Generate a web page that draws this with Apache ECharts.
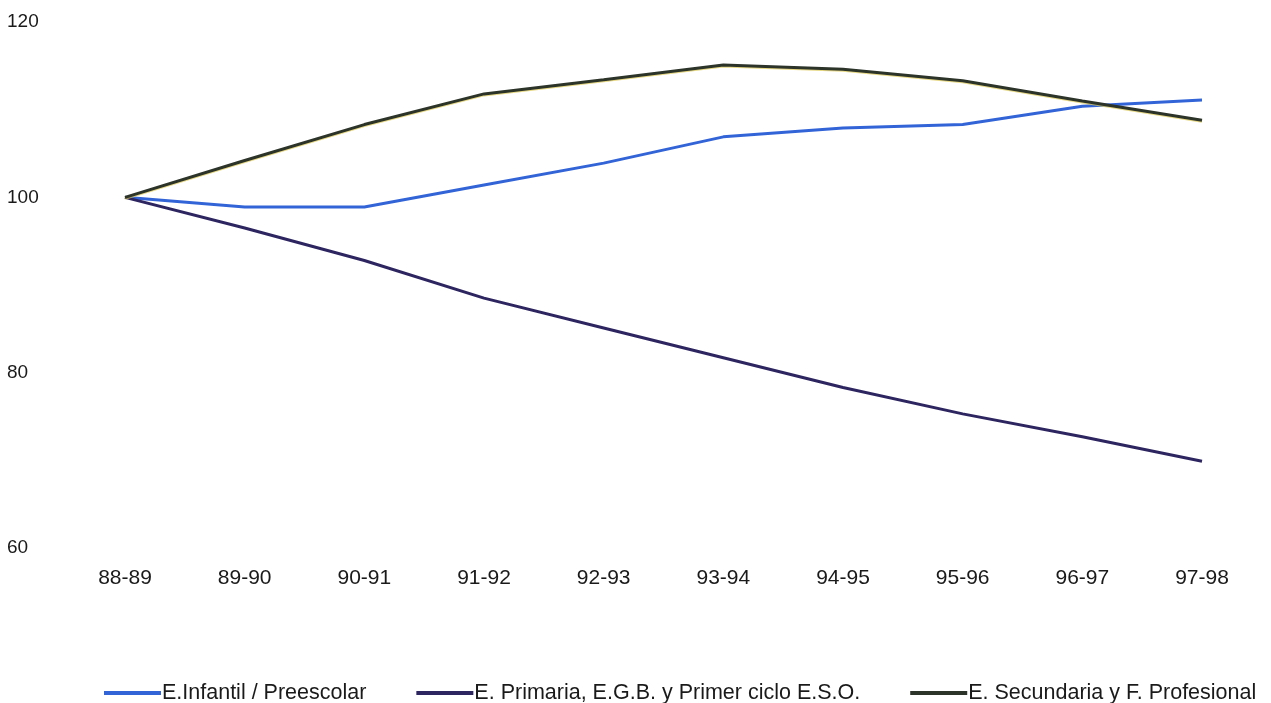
<!DOCTYPE html>
<html><head><meta charset="utf-8">
<script src="https://cdn.jsdelivr.net/npm/echarts@6/dist/echarts.min.js"></script>
<style>html,body{margin:0;padding:0;background:#fff}#c{width:1271px;height:703px}</style>
</head><body><div id="c"></div>
<script>
const categories = ['88-89','89-90','90-91','91-92','92-93','93-94','94-95','95-96','96-97','97-98'];
const infantil = [100, 98.9, 98.9, 101.4, 103.9, 106.9, 107.9, 108.3, 110.4, 111.1];
const primaria = [100, 96.5, 92.8, 88.5, 85.1, 81.7, 78.3, 75.3, 72.7, 69.9];
const secundaria = [100, 104.2, 108.3, 111.8, 113.4, 115.1, 114.6, 113.3, 111.0, 108.8];
const seriesNames = ['E.Infantil / Preescolar', 'E. Primaria, E.G.B. y Primer ciclo E.S.O.', 'E. Secundaria y F. Profesional'];

const font = 'Liberation Sans, Arial, sans-serif';
const chart = echarts.init(document.getElementById('c'));
chart.setOption({
  animation: false,
  grid: {left: 125, right: 69, top: 22, bottom: 155, containLabel: false},
  legend: {
    top: 677, left: 99, itemWidth: 57, itemHeight: 4, itemGap: 50,
    icon: 'rect',
    textStyle: {fontFamily: font, fontSize: 21.5, color: '#1a1a1a', padding: [0,0,0,-4]},
    data: seriesNames
  },
  xAxis: {
    type: 'category', data: categories, boundaryGap: false,
    axisLine: {show: false}, axisTick: {show: false},
    axisLabel: {fontFamily: font, fontSize: 21, color: '#1a1a1a', margin: 20}
  },
  yAxis: {
    type: 'value', min: 60, max: 120, interval: 20,
    splitLine: {show: false}, axisLine: {show: false}, axisTick: {show: false},
    axisLabel: {fontFamily: font, fontSize: 19, color: '#1a1a1a', align: 'left', margin: 118}
  },
  series: [
    {name: seriesNames[0], type: 'line', data: infantil, symbol: 'none', color: '#3264d8', lineStyle: {width: 3}},
    {name: seriesNames[1], type: 'line', data: primaria, symbol: 'none', color: '#2d2560', lineStyle: {width: 3}},
    {name: seriesNames[2], type: 'line', data: secundaria, symbol: 'none', color: '#2c3329',
      lineStyle: {width: 3, shadowColor: 'rgba(220,200,80,0.7)', shadowOffsetY: 1, shadowBlur: 0}}
  ]
});
</script></body></html>
